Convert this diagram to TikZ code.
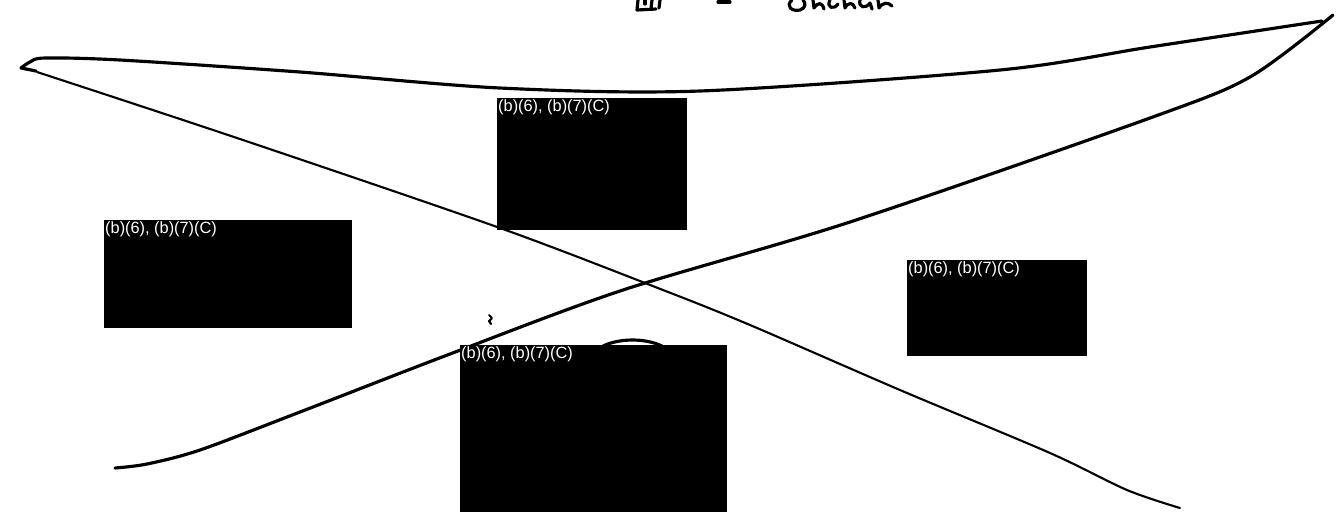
\documentclass[tikz,border=0pt]{standalone}
\usepackage{fontspec}
\setmainfont{Liberation Sans}
\usetikzlibrary{positioning}

\begin{document}
\begin{tikzpicture}[
    x=0.02cm, y=-0.02cm,
    pen/.style={draw=black, line width=1.8pt, line cap=round, line join=round},
    thinpen/.style={draw=black, line width=1.2pt, line cap=round, line join=round},
    redlabel/.style={anchor=north west, inner sep=0.5pt, text=white, font=\fontsize{9.3}{11}\selectfont},
    redact/.style={fill=black, anchor=north west, inner sep=0pt,
        label={[redlabel]north west:{(b)(6), (b)(7)(C)}}}
]
\useasboundingbox[fill=white] (0,0) rectangle (1340,529);

% tips of the crossing strokes
\coordinate (TipLeft) at (21,68);
\coordinate (TipRight) at (1322,21);

% top stroke, left tip to right tip
\draw[pen] plot[smooth, tension=0.5] coordinates {(TipLeft) (30,62) (45,58) (120,60) (300,72) (500,88) (700,91) (1000,70) (1150,47) (TipRight)};
\draw[pen] (TipLeft) -- (36,71);

% stroke from right tip down to the left
\draw[pen] plot[smooth, tension=0.5] coordinates {(1333,15) (1250,77) (1150,118) (850,222) (623,290) (450,354) (300,412) (200,450) (147,464) (115,468)};

% stroke from left tip down to the right
\draw[thinpen] plot[smooth, tension=0.5] coordinates {(37,72) (240,139) (500,228) (663,290) (750,325) (900,390) (1050,453) (1127,490) (1180,508)};

% small marks
\draw[pen] (603,346) .. controls (620,338) and (645,338) .. (662,346);
\draw[thinpen] (489,315) -- (492,318) -- (489,321) -- (491,324);

% cut-off handwriting along the top edge
\draw[pen] (638,0) -- (637,10) -- (656,9);
\draw[pen] (645,0) -- (645,4);
\draw[pen] (652,0) -- (651,9);
\draw[pen] (660,0) -- (659,8);
\draw[pen] (718,2) -- (730,2);
\draw[pen] (792,0) .. controls (785,6) and (792,12) .. (800,10) .. controls (806,8) and (806,3) .. (803,0);
\draw[pen] (813,0) -- (814,8) .. controls (818,2) and (822,2) .. (824,9);
\draw[pen] (830,0) .. controls (826,8) and (834,10) .. (838,4);
\draw[pen] (844,0) -- (845,8) .. controls (848,2) and (853,2) .. (855,8);
\draw[pen] (860,0) .. controls (858,8) and (866,9) .. (870,3) -- (872,9);
\draw[pen] (878,0) -- (879,8) .. controls (883,2) and (888,2) .. (892,6);

% redacted boxes, on top of the strokes
\node[redact, minimum width=3.8cm, minimum height=2.64cm] (BoxTop) at (497,98) {};
\node[redact, minimum width=4.96cm, minimum height=2.16cm] (BoxLeft) at (104,220) {};
\node[redact, minimum width=3.6cm, minimum height=1.92cm] (BoxRight) at (907,260) {};
\node[redact, minimum width=5.34cm, minimum height=3.34cm] (BoxBottom) at (460,345) {};

\end{tikzpicture}
\end{document}
